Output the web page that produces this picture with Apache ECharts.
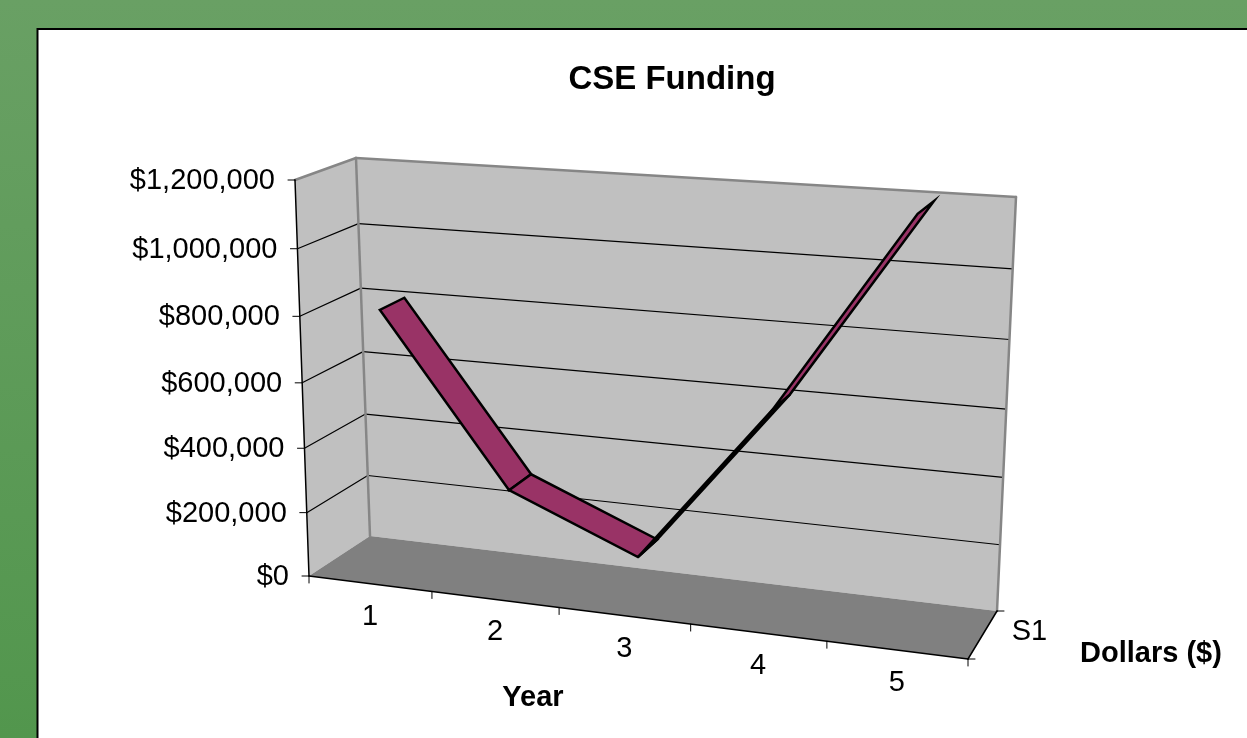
<!DOCTYPE html>
<html>
<head>
<meta charset="utf-8">
<style>html,body{margin:0;padding:0;background:#fff}#c{width:1247px;height:738px}</style>
<script src="https://cdn.jsdelivr.net/npm/echarts@6/dist/echarts.min.js"></script>
</head>
<body>
<div id="c"></div>
<script>
// ---- data ----
const years = [1, 2, 3, 4, 5];
const funding = [810000, 300000, 140000, 620000, 1200000];
const valueTicks = [0, 200000, 400000, 600000, 800000, 1000000, 1200000];
const valueTickLabels = ['$0', '$200,000', '$400,000', '$600,000', '$800,000', '$1,000,000', '$1,200,000'];
const depthLabels = ['S1'];
const chartTitle = 'CSE Funding';
const yearTitle = 'Year';
const dollarTitle = 'Dollars ($)';

// ---- 3D view of the unit box (s along years, t along value, w into depth) ----
const VIEW = {
  f00: [309, 576], f10: [968, 659], f01: [295, 180], f11: [980, 228],
  b00: [370, 536], b10: [997, 611], b01: [356, 158], b11: [1016, 197],
  perspX: 1.09, perspY: 1.05
};
const RIBBON = [0.3, 0.72];
const FONT = 'Liberation Sans, Arial, sans-serif';
const minX = years[0] - 0.5, maxX = years[years.length - 1] + 0.5;

function view(s, t, w) {
  const u = s / (s + VIEW.perspX * (1 - s));
  const h = t / (t + VIEW.perspY * (1 - t));
  const out = [];
  for (let i = 0; i < 2; i++) {
    const fb = VIEW.f00[i] + (VIEW.f10[i] - VIEW.f00[i]) * u;
    const ft = VIEW.f01[i] + (VIEW.f11[i] - VIEW.f01[i]) * u;
    const bb = VIEW.b00[i] + (VIEW.b10[i] - VIEW.b00[i]) * u;
    const bt = VIEW.b01[i] + (VIEW.b11[i] - VIEW.b01[i]) * u;
    const f = fb + (ft - fb) * h;
    const b = bb + (bt - bb) * h;
    out.push(f + (b - f) * w);
  }
  return out;
}
function projector(params, api) {
  const cs = params.coordSys;
  return function (x, v, w) {
    const p = api.coord([x, v]);
    return view((p[0] - cs.x) / cs.width, (cs.y + cs.height - p[1]) / cs.height, w);
  };
}
function line(a, b, color, width) {
  return { type: 'line', shape: { x1: a[0], y1: a[1], x2: b[0], y2: b[1] },
           style: { stroke: color, lineWidth: width, lineCap: 'round' }, silent: true };
}
function poly(points, fill, stroke, width) {
  return { type: 'polygon', shape: { points }, silent: true,
           style: { fill, stroke: stroke || 'none', lineWidth: width || 0, lineJoin: 'miter' } };
}
function label(text, x, y, align) {
  return { type: 'text', silent: true,
           style: { text, x, y, fill: '#000', align, verticalAlign: 'middle', font: '29px ' + FONT } };
}

function renderFrame(params, api) {
  const P = projector(params, api);
  const top = valueTicks[valueTicks.length - 1];
  const c = [];
  // walls and floor
  c.push(poly([P(minX, 0, 0), P(minX, top, 0), P(minX, top, 1), P(minX, 0, 1)], '#c0c0c0'));
  c.push(poly([P(minX, 0, 1), P(minX, top, 1), P(maxX, top, 1), P(maxX, 0, 1)], '#c0c0c0'));
  c.push(poly([P(minX, 0, 0), P(maxX, 0, 0), P(maxX, 0, 1), P(minX, 0, 1)], '#808080'));
  // gridlines
  valueTicks.slice(1, -1).forEach(v => {
    c.push(line(P(minX, v, 0), P(minX, v, 1), '#000', 1.2));
    c.push(line(P(minX, v, 1), P(maxX, v, 1), '#000', 1.2));
  });
  // wall borders
  const grey = '#868686';
  c.push(line(P(minX, top, 0), P(minX, top, 1), grey, 2.5));
  c.push(line(P(minX, top, 1), P(maxX, top, 1), grey, 2.5));
  c.push(line(P(minX, top, 1), P(minX, 0, 1), grey, 2.5));
  c.push(line(P(maxX, top, 1), P(maxX, 0, 1), grey, 2.5));
  // axis lines
  c.push(line(P(minX, 0, 0), P(minX, top, 0), '#000', 1.5));
  c.push(line(P(minX, 0, 0), P(maxX, 0, 0), '#000', 1.5));
  c.push(line(P(maxX, 0, 0), P(maxX, 0, 1), '#000', 1.5));
  // value ticks and labels
  valueTicks.forEach((v, i) => {
    const a = P(minX, v, 0);
    c.push(line(a, [a[0] - 7, a[1]], '#000', 1));
    c.push(label(valueTickLabels[i], a[0] - 20, a[1] + 1, 'right'));
  });
  // year ticks and labels
  for (let k = 0; k <= years.length; k++) {
    const a = P(minX + k, 0, 0);
    c.push(line(a, [a[0], a[1] + 7], '#000', 1));
  }
  years.forEach(y => {
    const a = P(y, 0, 0);
    c.push(label(String(y), a[0], a[1] + 33, 'center'));
  });
  // depth axis
  const d0 = P(maxX, 0, 0), d1 = P(maxX, 0, 1), dm = P(maxX, 0, 0.5);
  c.push(line(d0, [d0[0] + 7, d0[1]], '#000', 1));
  c.push(line(d1, [d1[0] + 7, d1[1]], '#000', 1));
  c.push(label(depthLabels[0], dm[0] + 47, dm[1] - 3, 'center'));
  return { type: 'group', children: c };
}

function renderRibbon(params, api) {
  const i = params.dataIndex;
  if (i >= years.length - 1) return null;
  const P = projector(params, api);
  const x0 = api.value(0), v0 = api.value(1);
  const x1 = years[i + 1], v1 = funding[i + 1];
  return poly([P(x0, v0, RIBBON[0]), P(x1, v1, RIBBON[0]), P(x1, v1, RIBBON[1]), P(x0, v0, RIBBON[1])],
              '#993366', '#000', 2.5);
}

const chart = echarts.init(document.getElementById('c'), null, { renderer: 'canvas' });
chart.setOption({
  animation: false,
  title: [
    { text: chartTitle, left: 667, top: 58, textAlign: 'center',
      textStyle: { fontFamily: FONT, fontWeight: 'bold', fontSize: 33, color: '#000' } },
    { text: yearTitle, left: 528, top: 678, textAlign: 'center',
      textStyle: { fontFamily: FONT, fontWeight: 'bold', fontSize: 29, color: '#000' } },
    { text: dollarTitle, left: 1146, top: 634, textAlign: 'center',
      textStyle: { fontFamily: FONT, fontWeight: 'bold', fontSize: 29, color: '#000' } }
  ],
  grid: { left: 300, top: 180, width: 680, height: 400 },
  xAxis: { type: 'value', min: minX, max: maxX, show: false },
  yAxis: { type: 'value', min: 0, max: valueTicks[valueTicks.length - 1], interval: 200000, show: false },
  graphic: [
    { type: 'rect', z: -2, silent: true, shape: { x: 0, y: 0, width: 1247, height: 738 },
      style: { fill: new echarts.graphic.LinearGradient(0, 0, 0, 1, [
        { offset: 0, color: '#69a064' }, { offset: 1, color: '#52964d' }]) } },
    { type: 'rect', z: -1, silent: true, shape: { x: 37.5, y: 29, width: 1300, height: 800 },
      style: { fill: '#fff', stroke: '#000', lineWidth: 2 } }
  ],
  series: [
    { type: 'custom', name: 'frame', coordinateSystem: 'cartesian2d', clip: false, silent: true, z: 2,
      data: [[years[0], 0]], renderItem: renderFrame },
    { type: 'custom', name: 'S1', coordinateSystem: 'cartesian2d', clip: false, silent: true, z: 3,
      data: years.map((y, i) => [y, funding[i]]), renderItem: renderRibbon }
  ]
});
</script>
</body>
</html>
